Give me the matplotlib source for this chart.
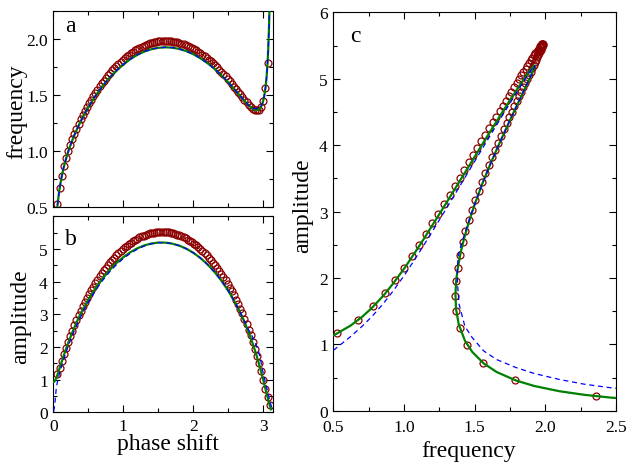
import matplotlib
matplotlib.use('Agg')
import matplotlib.pyplot as plt
from matplotlib.ticker import MultipleLocator

plt.rcParams['font.family'] = ['Liberation Serif', 'DejaVu Serif']

# ---- numerical solution (open circles) ----
circle_phase = [
    0.06, 0.09, 0.12, 0.15, 0.18, 0.21, 0.24, 0.27, 0.30, 0.33, 0.36, 0.39,
    0.42, 0.45, 0.48, 0.51, 0.54, 0.57, 0.60, 0.63, 0.66, 0.69, 0.72, 0.75,
    0.78, 0.81, 0.84, 0.87, 0.90, 0.93, 0.96, 0.99, 1.02, 1.05, 1.08, 1.11,
    1.14, 1.17, 1.20, 1.23, 1.26, 1.29, 1.32, 1.35, 1.38, 1.41, 1.44, 1.47,
    1.50, 1.53, 1.56, 1.59, 1.62, 1.65, 1.68, 1.71, 1.74, 1.77, 1.80, 1.83,
    1.86, 1.89, 1.92, 1.95, 1.98, 2.01, 2.04, 2.07, 2.10, 2.13, 2.16, 2.19,
    2.22, 2.25, 2.28, 2.31, 2.34, 2.37, 2.40, 2.43, 2.46, 2.49, 2.52, 2.55,
    2.58, 2.61, 2.64, 2.67, 2.70, 2.73, 2.76, 2.79, 2.82, 2.85, 2.88, 2.91,
    2.94, 2.97, 3.00, 3.03, 3.06, 3.09]
circle_freq = [
    0.525, 0.673, 0.782, 0.867, 0.939, 1.001, 1.057, 1.109, 1.156, 1.201, 1.243, 1.284,
    1.322, 1.358, 1.393, 1.427, 1.459, 1.490, 1.520, 1.548, 1.576, 1.602, 1.628, 1.652,
    1.676, 1.698, 1.720, 1.740, 1.760, 1.779, 1.797, 1.814, 1.830, 1.845, 1.860, 1.873,
    1.886, 1.898, 1.909, 1.919, 1.929, 1.938, 1.946, 1.953, 1.959, 1.964, 1.969, 1.973,
    1.976, 1.978, 1.979, 1.980, 1.980, 1.979, 1.977, 1.975, 1.972, 1.967, 1.963, 1.957,
    1.951, 1.943, 1.935, 1.927, 1.917, 1.907, 1.896, 1.884, 1.872, 1.858, 1.844, 1.829,
    1.814, 1.798, 1.781, 1.763, 1.745, 1.726, 1.706, 1.686, 1.665, 1.643, 1.621, 1.598,
    1.575, 1.552, 1.528, 1.505, 1.481, 1.458, 1.435, 1.414, 1.395, 1.379, 1.367, 1.363,
    1.370, 1.394, 1.448, 1.558, 1.786, 2.356]
circle_amp = [
    1.163, 1.363, 1.570, 1.772, 1.967, 2.154, 2.332, 2.502, 2.665, 2.820, 2.969, 3.111,
    3.247, 3.378, 3.503, 3.624, 3.739, 3.850, 3.956, 4.059, 4.157, 4.251, 4.341, 4.428,
    4.511, 4.590, 4.666, 4.738, 4.807, 4.873, 4.935, 4.994, 5.049, 5.102, 5.151, 5.197,
    5.241, 5.280, 5.317, 5.351, 5.382, 5.409, 5.434, 5.455, 5.474, 5.489, 5.502, 5.511,
    5.517, 5.521, 5.521, 5.518, 5.512, 5.504, 5.492, 5.477, 5.459, 5.438, 5.413, 5.386,
    5.356, 5.322, 5.285, 5.245, 5.202, 5.156, 5.106, 5.053, 4.997, 4.937, 4.874, 4.807,
    4.737, 4.663, 4.585, 4.504, 4.419, 4.329, 4.236, 4.138, 4.036, 3.929, 3.817, 3.700,
    3.578, 3.449, 3.315, 3.174, 3.027, 2.871, 2.707, 2.534, 2.351, 2.156, 1.950, 1.730,
    1.496, 1.249, 0.989, 0.723, 0.460, 0.220]

# ---- first approximation (green solid) ----
green_phase = [
    0.00, 0.01, 0.02, 0.03, 0.04, 0.05, 0.06, 0.08, 0.10, 0.12, 0.15, 0.18,
    0.22, 0.26, 0.30, 0.36, 0.42, 0.50, 0.60, 0.70, 0.80, 0.90, 1.00, 1.10,
    1.20, 1.30, 1.40, 1.50, 1.60, 1.70, 1.80, 1.90, 2.00, 2.10, 2.20, 2.30,
    2.40, 2.50, 2.58, 2.65, 2.71, 2.76, 2.80, 2.84, 2.87, 2.90, 2.93, 2.96,
    2.99, 3.01, 3.03, 3.045, 3.06, 3.07, 3.08, 3.087, 3.093, 3.10, 3.11]
green_freq = [
    0.000, 0.108, 0.209, 0.302, 0.384, 0.456, 0.519, 0.623, 0.705, 0.773, 0.858, 0.928,
    1.009, 1.078, 1.141, 1.225, 1.301, 1.391, 1.490, 1.576, 1.651, 1.716, 1.772, 1.819,
    1.857, 1.886, 1.907, 1.920, 1.924, 1.921, 1.909, 1.890, 1.862, 1.827, 1.784, 1.734,
    1.676, 1.611, 1.555, 1.505, 1.462, 1.427, 1.402, 1.381, 1.369, 1.364, 1.368, 1.387,
    1.431, 1.483, 1.564, 1.656, 1.792, 1.922, 2.101, 2.273, 2.464, 2.765, 3.454]
green_amp = [
    0.922, 0.930, 0.955, 0.992, 1.040, 1.095, 1.155, 1.283, 1.416, 1.548, 1.742, 1.929,
    2.164, 2.384, 2.590, 2.875, 3.135, 3.447, 3.790, 4.088, 4.344, 4.564, 4.748, 4.900,
    5.020, 5.109, 5.167, 5.196, 5.194, 5.162, 5.100, 5.007, 4.882, 4.724, 4.531, 4.302,
    4.031, 3.715, 3.424, 3.137, 2.862, 2.609, 2.390, 2.151, 1.959, 1.754, 1.535, 1.302,
    1.055, 0.885, 0.712, 0.582, 0.455, 0.372, 0.293, 0.240, 0.197, 0.150, 0.091]

# ---- second approximation (blue dashed) ----
blue_phase = [
    0.005, 0.02, 0.03, 0.04, 0.05, 0.06, 0.08, 0.10, 0.12, 0.15, 0.18,
    0.22, 0.26, 0.30, 0.36, 0.42, 0.50, 0.60, 0.70, 0.80, 0.90, 1.00, 1.10,
    1.20, 1.30, 1.40, 1.50, 1.60, 1.70, 1.80, 1.90, 2.00, 2.10, 2.20, 2.30,
    2.40, 2.50, 2.58, 2.65, 2.71, 2.76, 2.80, 2.84, 2.87, 2.90, 2.93, 2.96,
    2.99, 3.01, 3.03, 3.045, 3.06, 3.07, 3.08, 3.087, 3.093, 3.10, 3.11, 3.12, 3.135]
blue_freq = [
    0.054, 0.209, 0.302, 0.384, 0.456, 0.519, 0.623, 0.705, 0.773, 0.858, 0.928,
    1.009, 1.078, 1.141, 1.225, 1.301, 1.391, 1.490, 1.576, 1.651, 1.716, 1.772, 1.819,
    1.857, 1.886, 1.907, 1.920, 1.924, 1.921, 1.909, 1.890, 1.862, 1.827, 1.784, 1.734,
    1.676, 1.611, 1.555, 1.505, 1.462, 1.427, 1.402, 1.384, 1.379, 1.377, 1.380, 1.390,
    1.431, 1.483, 1.564, 1.656, 1.792, 1.922, 2.101, 2.273, 2.464, 2.765, 3.454, 4.800, 15.00]
blue_amp = [
    0.03, 0.20, 0.448, 0.687, 0.832, 0.941, 1.118, 1.274, 1.418, 1.624, 1.817,
    2.060, 2.285, 2.495, 2.785, 3.050, 3.369, 3.720, 4.025, 4.288, 4.516, 4.707, 4.866,
    4.994, 5.090, 5.155, 5.191, 5.194, 5.162, 5.100, 5.007, 4.882, 4.724, 4.531, 4.302,
    4.031, 3.715, 3.424, 3.140, 2.880, 2.650, 2.480, 2.330, 2.190, 2.040, 1.870, 1.600,
    1.270, 1.100, 0.900, 0.770, 0.650, 0.560, 0.470, 0.400, 0.345, 0.290, 0.210, 0.150, 0.050]

RED = '#8b0000'
GREEN = '#008000'
BLUE = '#0000ff'

fig = plt.figure(figsize=(6.27, 4.64), dpi=100)
axa = fig.add_axes([0.0850, 0.5511, 0.3509, 0.4237])
axb = fig.add_axes([0.0850, 0.1093, 0.3509, 0.4224])
axc = fig.add_axes([0.5316, 0.1127, 0.4509, 0.8586])


def style(ax, xpad=4):
    ax.tick_params(which='both', direction='in', top=True, right=True,
                   labelsize=12.5, width=0.8, colors='black', pad=4)
    ax.tick_params(axis='x', which='both', pad=xpad)
    ax.tick_params(which='major', length=5)
    ax.tick_params(which='minor', length=3)
    for s in ax.spines.values():
        s.set_linewidth(0.8)


def draw(ax, xc, yc, xg, yg, xb, yb):
    ax.plot(xc, yc, 'o', ms=5, mfc='none', mec=RED, mew=0.9, zorder=2)
    ax.plot(xg, yg, '-', color=GREEN, lw=1.6, zorder=3)
    ax.plot(xb, yb, '--', color=BLUE, lw=0.9, dashes=(4, 3), zorder=4)


# panel a
draw(axa, circle_phase, circle_freq, green_phase, green_freq, blue_phase, blue_freq)
axa.set_xlim(0, 3.1416)
axa.set_ylim(0.5, 2.25)
axa.xaxis.set_major_locator(MultipleLocator(1))
axa.xaxis.set_minor_locator(MultipleLocator(0.5))
axa.set_yticks([0.5, 1.0, 1.5, 2.0])
axa.yaxis.set_minor_locator(MultipleLocator(0.25))
axa.tick_params(labelbottom=False)
style(axa)
axa.text(0.053, 0.898, 'a', transform=axa.transAxes, fontsize=17, va='baseline', ha='left')
axa.text(-0.166, 0.49, 'frequency', transform=axa.transAxes, fontsize=17,
         rotation=90, ha='center', va='center')

# panel b
draw(axb, circle_phase, circle_amp, green_phase, green_amp, blue_phase, blue_amp)
axb.set_xlim(0, 3.1416)
axb.set_ylim(0, 6)
axb.xaxis.set_major_locator(MultipleLocator(1))
axb.xaxis.set_minor_locator(MultipleLocator(0.5))
axb.set_yticks([0, 1, 2, 3, 4, 5])
axb.yaxis.set_minor_locator(MultipleLocator(0.5))
style(axb, xpad=4)
axb.text(0.053, 0.857, 'b', transform=axb.transAxes, fontsize=17, va='baseline', ha='left')
axb.text(-0.147, 0.493, 'amplitude', transform=axb.transAxes, fontsize=17,
         rotation=90, ha='center', va='center')
axb.text(0.521, -0.158, 'phase shift', transform=axb.transAxes, fontsize=17,
         ha='center', va='center')

# panel c
draw(axc, circle_freq, circle_amp, green_freq, green_amp, blue_freq, blue_amp)
axc.set_xlim(0.5, 2.5)
axc.set_ylim(0, 6)
axc.xaxis.set_major_locator(MultipleLocator(0.5))
axc.xaxis.set_minor_locator(MultipleLocator(0.25))
axc.yaxis.set_major_locator(MultipleLocator(1))
axc.yaxis.set_minor_locator(MultipleLocator(0.5))
style(axc, xpad=6)
axc.text(0.059, 0.928, 'c', transform=axc.transAxes, fontsize=17, va='baseline', ha='left')
axc.text(-0.107, 0.516, 'amplitude', transform=axc.transAxes, fontsize=17,
         rotation=90, ha='center', va='center')
axc.text(0.480, -0.101, 'frequency', transform=axc.transAxes, fontsize=17,
         ha='center', va='center')

fig.savefig('out.png', dpi=100)
